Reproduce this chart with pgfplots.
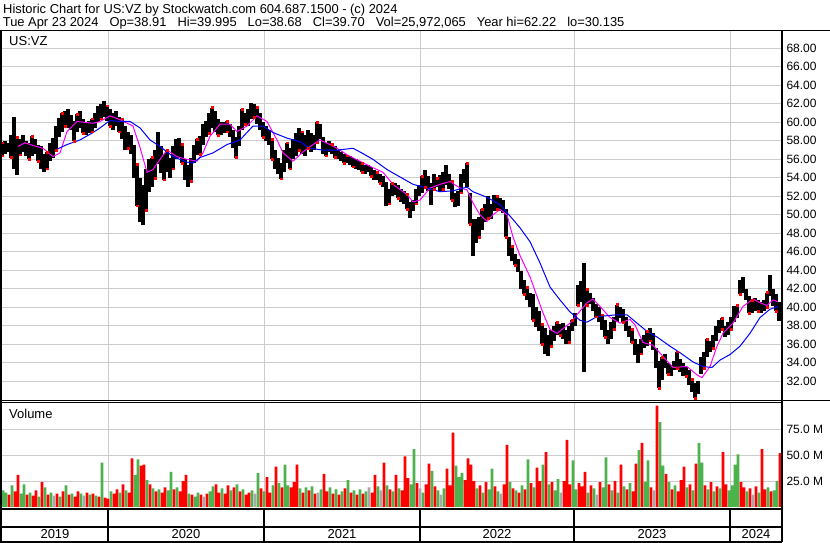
\documentclass[border=0pt]{standalone}
\usepackage{pgfplots}
\usepackage{pgfplotstable}
\pgfplotsset{compat=1.18}
\usepackage{fontspec}
\setmainfont{Liberation Sans}
\definecolor{gridgray}{RGB}{204,204,204}
\definecolor{volgreen}{RGB}{76,178,76}
\definecolor{volred}{RGB}{255,0,0}
\definecolor{volgray}{RGB}{168,168,168}
\definecolor{mamag}{RGB}{255,0,255}
\definecolor{mablue}{RGB}{0,0,255}

\pgfplotstableread{
x lo hi
2 56.4 57.8
5 56.6 58.0
8 56.8 57.8
11 56.2 58.6
14 55.0 60.6
17 54.3 58.4
20 56.5 58.2
23 56.8 58.6
26 56.4 58.0
29 56.0 57.8
32 56.4 58.5
35 56.6 58.2
38 55.8 57.6
41 55.0 57.4
44 54.6 56.6
47 55.0 56.8
50 55.8 57.8
53 56.2 58.3
56 57.0 59.6
59 58.4 60.5
62 59.0 61.0
65 59.6 61.2
68 59.4 61.4
71 59.2 60.8
74 58.0 60.2
77 59.0 60.9
80 59.4 61.2
83 58.8 60.4
86 58.6 60.0
89 58.8 60.2
92 59.0 60.4
95 59.4 61.0
98 60.0 61.8
101 60.4 62.0
104 60.6 62.3
107 60.2 61.8
110 59.6 61.4
113 59.2 61.0
116 59.6 61.2
119 59.0 60.6
122 58.2 60.4
125 57.0 59.6
128 57.2 59.0
131 56.6 58.6
134 54.0 57.6
137 51.0 55.5
140 49.2 54.0
143 48.9 53.2
146 50.5 55.0
149 52.5 56.0
152 53.0 56.2
155 54.0 57.0
158 55.5 59.0
161 54.5 57.4
164 53.8 56.6
167 54.6 57.0
170 54.0 56.2
173 55.0 57.4
176 56.0 58.2
179 56.2 58.3
182 55.6 57.6
185 53.8 56.0
188 53.0 55.4
191 53.6 56.2
194 55.6 57.6
197 56.5 58.2
200 56.6 58.5
203 57.6 59.8
206 58.4 60.2
209 58.8 61.0
212 59.4 61.6
215 59.0 61.2
218 58.6 60.4
221 58.6 60.0
224 58.8 60.0
227 59.0 60.1
230 58.4 59.8
233 57.2 59.2
236 56.2 58.4
239 57.4 59.6
242 59.2 61.4
245 59.8 61.0
248 59.6 61.4
251 60.4 62.1
254 60.6 62.0
257 59.8 61.6
260 59.2 61.0
263 58.4 60.0
266 58.0 59.6
269 57.6 59.2
272 56.0 58.2
275 55.0 57.0
278 54.4 56.2
281 53.9 55.6
284 54.6 57.0
287 55.6 57.8
290 55.0 57.2
293 56.0 58.2
296 56.4 58.8
299 57.0 59.4
302 56.6 59.0
305 56.4 58.6
308 57.2 59.2
311 56.8 58.8
314 57.0 58.6
317 57.8 60.0
320 58.2 59.8
323 56.6 58.4
326 56.4 57.8
329 56.8 58.0
332 56.6 57.6
335 56.2 57.4
338 56.0 57.0
341 55.8 56.8
344 55.6 56.6
347 55.6 56.4
350 55.4 56.4
353 55.2 56.2
356 55.0 56.0
359 54.8 55.8
362 54.6 55.6
365 54.4 55.4
368 54.6 55.4
371 54.2 55.2
374 53.8 54.8
377 53.8 54.6
380 53.4 54.4
383 53.0 54.2
386 51.0 53.6
389 51.2 52.8
392 52.0 53.4
395 52.2 53.4
398 51.8 53.2
401 51.4 52.8
404 51.2 52.6
407 50.6 52.2
410 49.7 51.4
413 50.4 51.6
416 51.2 52.8
419 52.0 53.2
422 52.4 54.2
425 53.0 54.9
428 52.6 54.2
431 51.1 53.4
434 52.8 54.4
437 53.0 54.0
440 52.6 54.3
443 52.8 54.6
446 53.2 55.4
449 52.8 54.4
452 51.6 53.6
455 50.8 52.4
458 51.0 52.6
461 52.4 54.4
464 53.4 55.0
467 53.0 55.6
470 49.0 52.4
473 45.5 49.6
476 47.0 49.5
479 47.6 49.8
482 48.4 50.6
485 49.2 51.2
488 49.6 52.0
491 49.6 51.2
494 50.4 52.2
497 50.6 52.0
500 50.4 51.8
503 50.2 51.6
506 47.6 50.6
509 45.6 47.6
512 45.0 46.6
515 44.6 45.8
518 43.8 45.2
521 42.0 43.9
524 41.4 43.0
527 40.8 42.2
530 40.0 41.6
533 38.6 41.4
536 37.9 40.0
539 37.4 39.6
542 36.0 38.2
545 35.0 37.8
548 34.7 37.0
551 35.8 37.6
554 36.4 38.0
557 37.0 38.4
560 37.0 38.2
563 36.6 38.3
566 36.0 37.6
569 36.2 38.0
572 37.4 38.6
575 38.0 39.4
578 40.2 42.4
581 40.6 42.8
584 33.0 44.8
587 40.2 42.0
590 40.4 41.6
593 39.6 41.0
596 39.0 40.4
599 38.4 40.0
602 37.6 39.2
605 36.8 38.6
608 36.0 37.6
611 36.6 38.4
614 37.6 39.0
617 38.4 40.3
620 38.8 40.0
623 38.4 39.8
626 37.4 39.0
629 36.8 38.0
632 36.2 37.6
635 34.8 36.6
638 34.0 36.0
641 35.0 36.6
644 35.6 37.0
647 35.8 37.4
650 36.4 37.8
653 35.4 37.2
656 33.4 35.6
659 31.3 34.2
662 32.2 34.6
665 33.4 35.0
668 32.8 34.0
671 32.6 33.8
674 33.2 34.2
677 33.4 35.2
680 33.0 34.4
683 32.6 34.0
686 32.6 33.6
689 31.6 33.2
692 30.8 32.2
695 30.2 31.8
698 30.6 32.0
701 32.8 34.6
704 33.4 35.2
707 34.6 36.6
710 35.2 36.4
713 35.6 37.0
716 36.4 38.0
719 37.2 38.6
722 37.6 38.8
725 36.8 38.0
728 37.0 38.4
731 37.6 39.0
734 38.4 40.1
737 38.8 40.2
740 41.4 43.0
743 41.6 43.3
746 40.8 42.0
749 39.4 41.2
752 39.4 40.8
755 39.6 41.0
758 39.6 40.8
761 39.4 40.6
764 39.6 40.8
767 40.0 41.6
770 41.2 43.5
773 40.2 42.0
776 39.6 41.4
779 38.5 40.6
}\pricedata

\begin{document}
\begin{tikzpicture}[x=1bp,y=1bp]
\useasboundingbox (0,0) rectangle (830,543);
\fill[white] (0,0) rectangle (830,543);

% ---------- price panel ----------
\begin{axis}[
  at={(2bp,142.3bp)}, anchor=south west, scale only axis,
  width=780bp, height=369.7bp,
  xmin=2, xmax=782, ymin=29.91, ymax=69.88,
  axis line style={draw=none},
  xtick={108,264,420,574,730}, xticklabels={},
  ytick={32,34,36,38,40,42,44,46,48,50,52,54,56,58,60,62,64,66,68},
  yticklabel pos=right,
  grid=major, major grid style={gridgray, line width=1bp},
  major tick length=0pt,
  tick label style={font=\fontsize{12bp}{14bp}\selectfont, text=black},
  yticklabel style={anchor=west, xshift=1bp},
  /pgf/number format/.cd, fixed, fixed zerofill, precision=2, assume math mode=true,
]
\addplot[black, line width=3.1bp, quiver={u=0, v=\thisrow{hi}-\thisrow{lo}}] table[x=x, y=lo] {\pricedata};
\addplot[only marks, mark=square*, mark size=0.9bp, red, each nth point=3] table[x=x, y=lo] {\pricedata};
\addplot[only marks, mark=square*, mark size=0.9bp, red, each nth point=5] table[x=x, y=hi] {\pricedata};
% short moving average
\addplot[mamag, line width=1bp] coordinates {
(18,57.4) (25,57.8) (33,57.5) (43,57.2) (53,56.3) (60,56.7) (67,59.0) (77,60.1) (93,59.9) (100,60.1) (110,60.7) (120,60.3) (133,59.6) (140,57.3) (147,54.6) (153,54.9) (160,56.0) (167,57.0) (177,56.3) (187,56.0) (197,55.8) (203,56.7) (210,58.5) (220,59.8) (230,59.8) (237,59.0) (247,59.6) (257,60.7) (267,60.1) (273,58.9) (277,58.1) (283,56.7) (293,55.8) (303,56.8) (313,57.6) (320,58.1) (330,57.6) (337,57.2) (347,56.5) (360,55.8) (373,55.1) (383,54.6) (393,53.3) (407,52.2) (413,51.4) (420,51.6) (430,52.9) (440,53.3) (450,53.6) (460,52.9) (467,52.7) (473,51.3) (480,50.0) (487,49.3) (493,50.0) (500,50.6) (507,50.0) (513,47.6) (520,45.6) (530,43.3) (537,41.2) (543,39.4) (550,37.6) (557,37.2) (563,37.7) (570,38.3) (577,39.2) (587,40.5) (593,40.9) (600,40.1) (610,38.9) (620,38.3) (630,38.7) (635,38.1) (643,36.2) (653,35.9) (663,34.7) (673,33.5) (687,33.6) (697,32.7) (702,32.4) (710,33.6) (717,35.8) (723,37.2) (733,38.3) (743,40.1) (753,40.9) (760,40.5) (767,40.2) (773,40.8) (778,40.6)
};
% long moving average
\addplot[mablue, line width=1bp] coordinates {
(55,57.0) (67,57.6) (80,58.1) (93,58.9) (100,59.4) (110,60.2) (120,60.1) (130,60.1) (140,59.4) (150,58.1) (160,57.4) (173,56.3) (187,55.7) (193,55.6) (200,56.2) (213,56.7) (227,57.6) (240,58.1) (253,59.6) (263,59.6) (273,58.9) (287,58.3) (300,57.9) (310,57.2) (323,57.0) (337,57.0) (353,57.2) (360,56.8) (373,56.0) (387,54.9) (400,54.1) (413,53.3) (427,52.9) (440,52.5) (453,52.6) (467,53.0) (473,52.5) (487,51.9) (500,51.1) (513,49.5) (520,48.6) (530,47.1) (540,44.8) (550,42.2) (560,40.8) (570,39.5) (580,38.6) (587,38.4) (597,39.0) (607,39.1) (617,39.2) (627,39.2) (637,38.3) (647,37.4) (657,36.8) (670,35.8) (680,35.1) (693,34.1) (703,33.6) (712,33.5) (720,34.3) (730,34.9) (740,35.8) (750,37.2) (760,38.9) (770,39.8) (778,40.1)
};
\end{axis}

% ---------- volume panel ----------
\begin{axis}[
  at={(2bp,36bp)}, anchor=south west, scale only axis,
  width=780bp, height=104.3bp,
  xmin=2, xmax=782, ymin=0, ymax=100.9,
  axis line style={draw=none},
  xtick={108,264,420,574,730}, xticklabels={},
  ytick={25,50,75}, yticklabels={25.0 M,50.0 M,75.0 M},
  yticklabel pos=right,
  grid=major, major grid style={gridgray, line width=1bp},
  major tick length=0pt,
  tick label style={font=\fontsize{12bp}{14bp}\selectfont, text=black},
  yticklabel style={anchor=west, xshift=1bp},
  extra x ticks={55,186,342,497,652,756},
  extra x tick labels={2019,2020,2021,2022,2023,2024},
  extra x tick style={grid=none, major tick length=0pt,
     tick label style={anchor=base, yshift=-32bp, font=\fontsize{13bp}{15bp}\selectfont}},
]
\addplot[ybar, bar width=2.7bp, bar shift=0pt, fill=volgreen, draw=none] coordinates {
(3,16) (6,14) (12,21) (21,13) (24,22) (30,14) (39,10) (45,19) (51,14) (60,10) (66,21) (72,13) (81,13) (90,12) (96,11) (102,43) (111,15) (120,14) (126,16) (135,31) (138,46) (147,26) (153,18) (159,17) (168,16) (171,34) (177,19) (189,13) (195,10) (198,14) (210,15) (213,20) (222,18) (231,16) (237,22) (243,17) (252,16) (258,33) (264,15) (273,21) (279,23) (285,41) (288,21) (300,18) (306,19) (312,20) (321,17) (330,19) (336,17) (342,15) (348,26) (354,16) (360,17) (366,15) (378,20) (387,21) (393,15) (399,18) (411,22) (414,56) (423,14) (432,35) (438,16) (444,18) (456,40) (459,29) (462,33) (477,18) (483,14) (489,17) (492,37) (498,15) (510,24) (516,16) (522,21) (528,46) (534,19) (543,41) (549,22) (555,16) (558,27) (573,45) (576,17) (588,14) (594,18) (603,19) (606,48) (612,16) (618,14) (624,20) (630,23) (639,55) (645,24) (648,45) (660,82) (663,40) (669,24) (675,21) (687,19) (693,16) (699,62) (702,43) (708,17) (714,15) (720,18) (729,16) (732,21) (735,41) (738,51) (747,15) (759,14) (768,19) (774,16) (777,25)
};
\addplot[ybar, bar width=2.7bp, bar shift=0pt, fill=volred, draw=none] coordinates {
(9,12) (15,15) (18,31) (27,12) (33,11) (36,16) (42,24) (48,12) (57,13) (63,15) (69,12) (75,10) (78,15) (87,14) (93,13) (99,10) (105,9) (108,8) (114,13) (117,17) (123,22) (129,14) (132,47) (141,40) (144,41) (150,22) (156,15) (162,14) (165,19) (174,17) (180,15) (183,25) (186,31) (192,12) (201,12) (207,13) (216,22) (219,14) (225,13) (228,21) (234,19) (240,15) (246,12) (249,14) (261,18) (267,29) (270,14) (276,39) (282,19) (291,19) (294,24) (297,41) (303,14) (309,16) (315,13) (324,32) (327,15) (333,13) (339,12) (345,18) (351,14) (357,12) (363,13) (372,14) (375,31) (384,43) (390,17) (396,31) (402,16) (405,49) (408,28) (417,23) (426,22) (429,42) (435,20) (447,37) (450,21) (453,72) (465,26) (468,47) (471,41) (474,25) (480,21) (486,24) (495,20) (504,22) (507,60) (513,18) (519,14) (525,17) (531,23) (537,38) (540,25) (546,53) (552,24) (564,25) (567,65) (570,22) (579,23) (582,20) (585,34) (591,21) (600,24) (609,22) (615,25) (621,41) (627,17) (633,15) (636,42) (642,62) (651,19) (657,98) (666,32) (672,17) (678,15) (681,26) (684,39) (690,22) (696,42) (705,21) (711,24) (717,20) (723,53) (726,22) (741,24) (744,19) (750,18) (756,20) (762,56) (765,17) (771,15) (780,52)
};
\addplot[ybar, bar width=2.7bp, bar shift=0pt, fill=volgray, draw=none] coordinates {
(54,11) (84,11) (204,10) (255,13) (318,14) (369,19) (381,16) (420,18) (441,12) (501,13) (561,14) (597,12) (654,16) (753,12)
};
\end{axis}

% ---------- frames ----------
\draw[line width=1bp] (0,512) -- (830,512);
\fill[black] (0,1) rectangle (2.2,512.5);
\fill[black] (781,1) rectangle (783,512.5);
\draw[line width=1bp] (0,142.3) -- (830,142.3);
\draw[line width=1bp] (0,140.3) -- (782,140.3);
\draw[line width=2bp] (0,33.7) -- (782,33.7);
\draw[line width=2bp] (0,15.7) -- (782,15.7);
\draw[line width=2bp] (0,1.3) -- (782,1.3);
\foreach \xx in {108,264,420,574,730} {\draw[line width=1.5bp] (\xx,1) -- (\xx,34.5);}

% ---------- texts ----------
\node[anchor=base west, inner sep=0pt, font=\fontsize{12.9bp}{15bp}\selectfont] at (3,529.7)
  {Historic Chart for US:VZ by Stockwatch.com 604.687.1500 - (c) 2024};
\node[anchor=base west, inner sep=0pt, font=\fontsize{12.9bp}{15bp}\selectfont] at (2.7,516.3)
  {Tue Apr 23 2024\hspace{11bp}Op=38.91\hspace{11bp}Hi=39.995\hspace{11bp}Lo=38.68\hspace{11bp}Cl=39.70\hspace{11bp}Vol=25,972,065\hspace{11bp}Year hi=62.22\hspace{11bp}lo=30.135};
\node[anchor=base west, inner sep=0pt, font=\fontsize{13bp}{15bp}\selectfont] at (9,497) {US:VZ};
\node[anchor=base west, inner sep=0pt, font=\fontsize{13bp}{15bp}\selectfont] at (9,124.7) {Volume};
\end{tikzpicture}
\end{document}
